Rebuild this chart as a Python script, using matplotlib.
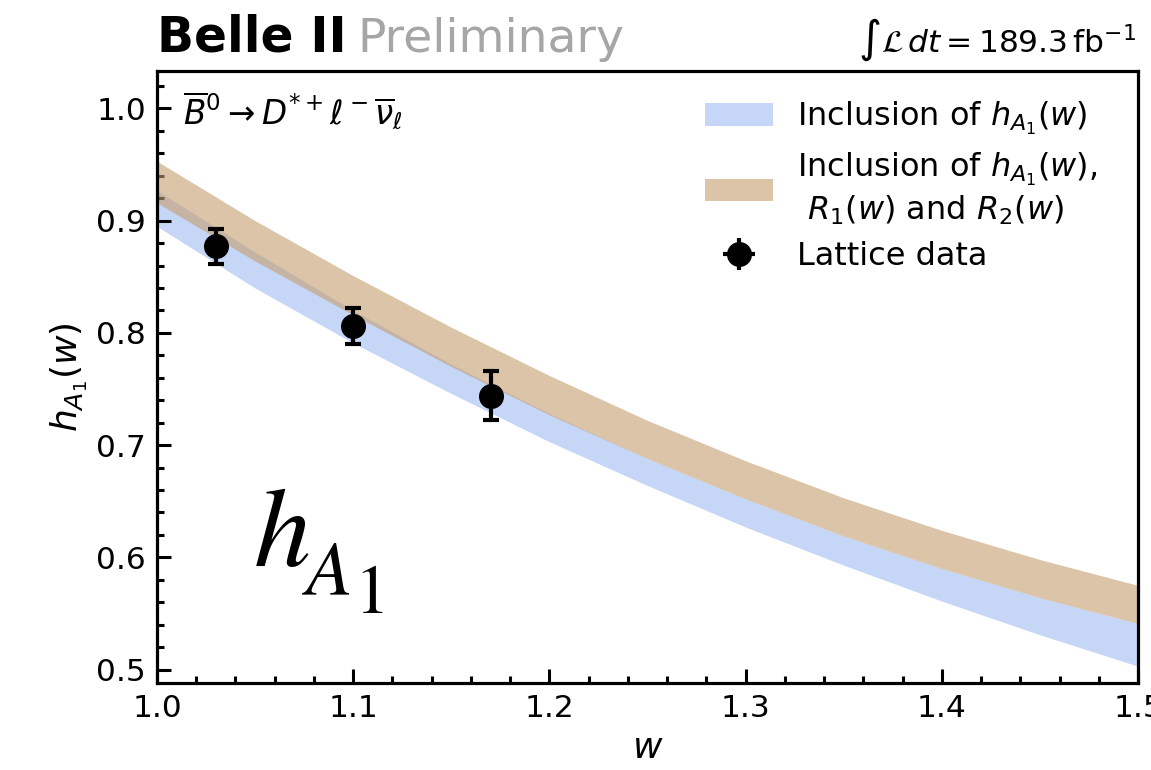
import matplotlib.pyplot as plt
import matplotlib.patches as mpatches
from matplotlib.ticker import MultipleLocator

# band edges
w = [1.00, 1.05, 1.10, 1.15, 1.20, 1.25, 1.30, 1.35, 1.40, 1.45, 1.50]
blue_lo = [0.895, 0.840, 0.791, 0.746, 0.703, 0.664, 0.627, 0.593, 0.561, 0.531, 0.503]
blue_hi = [0.927, 0.872, 0.820, 0.772, 0.728, 0.688, 0.652, 0.619, 0.590, 0.564, 0.541]
tan_lo = [0.916, 0.864, 0.816, 0.770, 0.727, 0.688, 0.652, 0.619, 0.590, 0.564, 0.541]
tan_hi = [0.953, 0.900, 0.851, 0.805, 0.762, 0.722, 0.686, 0.653, 0.624, 0.598, 0.575]

# lattice points
lat_w = [1.03, 1.10, 1.17]
lat_h = [0.877, 0.806, 0.744]
lat_err = [0.016, 0.016, 0.022]

fig = plt.figure(figsize=(11.51, 7.70), dpi=100)
ax = fig.add_axes([157 / 1151, 87 / 770, 981 / 1151, 612 / 770])

ax.fill_between(w, blue_lo, blue_hi, color='#c5d6f7', lw=0, zorder=1)
ax.fill_between(w, tan_lo, tan_hi, color='#c59d6e', alpha=0.6, lw=0, zorder=2)

eb_style = dict(fmt='o', color='black', ms=17, elinewidth=3, capsize=6, capthick=3)
ax.errorbar(lat_w, lat_h, yerr=lat_err, xerr=0, zorder=3, **eb_style)

ax.set_xlim(1.0, 1.5)
ax.set_ylim(0.488, 1.0334)
ax.xaxis.set_major_locator(MultipleLocator(0.1))
ax.xaxis.set_minor_locator(MultipleLocator(0.02))
ax.yaxis.set_major_locator(MultipleLocator(0.1))
ax.yaxis.set_minor_locator(MultipleLocator(0.02))
ax.tick_params(which='both', direction='in', labelsize=22.5, width=2.2)
ax.tick_params(which='major', length=10, pad=8)
ax.tick_params(which='minor', length=5)
for s in ax.spines.values():
    s.set_linewidth(2.3)

ax.set_xlabel('$w$', fontsize=26, labelpad=6)
ax.set_ylabel('$h_{A_1}(w)$', fontsize=26, labelpad=4)

ax.text(0.027, 0.935, r'$\overline{B}^0 \rightarrow D^{*+}\ell^-\overline{\nu}_\ell$',
        transform=ax.transAxes, fontsize=23.5, va='center')

# big h_A1 annotation, pieces placed by pixel
fig.text(253 / 1151, 1 - 566 / 770, '$h$', fontsize=82, math_fontfamily='stix', va='baseline')
fig.text(302 / 1151, 1 - 595 / 770, '$A$', fontsize=55, math_fontfamily='stix', va='baseline')
fig.text(354 / 1151, 1 - 613 / 770, '$1$', fontsize=50, math_fontfamily='stix', va='baseline')

handles = [
    mpatches.Patch(color='#c5d6f7', lw=0),
    mpatches.Patch(color='#dcc4a8', lw=0),
    ax.errorbar([], [], yerr=[], xerr=[], **eb_style),
]
labels = [
    'Inclusion of $h_{A_1}(w)$',
    'Inclusion of $h_{A_1}(w)$,\n $R_1(w)$ and $R_2(w)$',
    'Lattice data',
]
ax.legend(handles, labels, loc='upper left', bbox_to_anchor=(0.5586, 0.953),
          frameon=False, fontsize=23, borderpad=0, borderaxespad=0,
          handlelength=2.13, handletextpad=0.75, labelspacing=0.45)

fig.text(157 / 1151, 1 - 52 / 770, 'Belle II', fontsize=35, fontweight='bold', va='baseline')
fig.text(357 / 1151, 1 - 52 / 770, 'Preliminary', fontsize=34, color='#a6a6a6', va='baseline')
fig.text(1136 / 1151, 1 - 52 / 770, r'$\int\mathcal{L}\,dt = 189.3\,\mathrm{fb}^{-1}$',
         fontsize=22.5, ha='right', va='baseline')

fig.savefig('out.png', dpi=100)
